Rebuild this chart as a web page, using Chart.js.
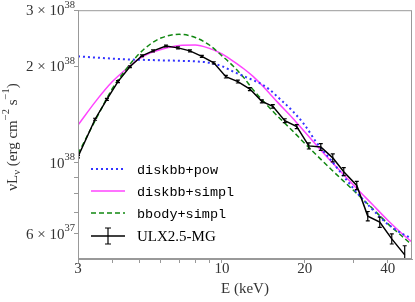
<!DOCTYPE html>
<html lang="en">
<head>
<meta charset="UTF-8">
<title>ULX2.5-MG spectrum</title>
<script src="https://cdn.jsdelivr.net/npm/chart.js"></script>
<style>
  html, body { margin: 0; padding: 0; background: #fff; }
  #wrap { width: 415px; height: 302px; }
</style>
</head>
<body>
<div id="wrap"><canvas id="specChart"></canvas></div>
<script>
// ULX2.5-MG data points: energy (keV), nuLnu (erg/s), 1-sigma error
const dataE = [3.00, 3.46, 3.82, 4.19, 4.63, 5.12, 5.62, 6.26, 6.92, 7.65, 8.45, 9.34, 10.33, 11.42,
               12.63, 13.96, 15.30, 16.91, 18.69, 20.67, 22.85, 25.26, 27.69, 30.87, 33.85, 37.42, 41.37, 46.1];
const dataL = [1.044e38, 1.368e38, 1.578e38, 1.794e38, 1.997e38, 2.160e38, 2.238e38, 2.319e38, 2.287e38,
               2.238e38, 2.152e38, 2.054e38, 1.859e38, 1.794e38, 1.700e38, 1.556e38, 1.501e38, 1.354e38,
               1.297e38, 1.129e38, 1.121e38, 1.036e38, 9.38e37, 8.49e37, 6.81e37, 6.52e37, 5.78e37, 5.15e37];
const dataErr = [0.8e36, 1.0e36, 1.1e36, 1.2e36, 1.3e36, 1.4e36, 1.5e36, 1.5e36, 1.5e36, 1.5e36, 1.5e36,
                 1.6e36, 1.8e36, 1.8e36, 1.8e36, 1.7e36, 1.8e36, 1.9e36, 1.9e36, 2.5e36, 2.7e36, 3.0e36,
                 2.7e36, 2.5e36, 2.3e36, 2.4e36, 2.1e36, 3.5e36];

// model curves, read at these energies (keV)
const modelE = [3, 3.5, 4, 4.5, 5, 5.5, 6, 7, 8, 9, 10, 11, 12, 13, 14, 15, 16, 18, 20, 22, 25, 28, 31, 35, 40, 45, 49];
const diskbbPow = [2.152e38, 2.132e38, 2.117e38, 2.106e38, 2.099e38, 2.096e38, 2.091e38, 2.084e38, 2.076e38,
                   2.054e38, 2.004e38, 1.927e38, 1.866e38, 1.811e38, 1.757e38, 1.683e38, 1.601e38, 1.455e38,
                   1.310e38, 1.160e38, 1.014e38, 8.95e37, 8.04e37, 7.18e37, 6.43e37, 6.01e37, 5.80e37];
const diskbbSimpl = [1.311e38, 1.567e38, 1.794e38, 1.968e38, 2.114e38, 2.207e38, 2.262e38, 2.327e38, 2.335e38,
                     2.279e38, 2.191e38, 2.076e38, 1.968e38, 1.859e38, 1.744e38, 1.636e38, 1.539e38, 1.383e38,
                     1.247e38, 1.137e38, 1.007e38, 9.08e37, 8.28e37, 7.44e37, 6.61e37, 6.01e37, 5.65e37];
const bbodySimpl = [1.066e38, 1.378e38, 1.707e38, 1.968e38, 2.191e38, 2.352e38, 2.455e38, 2.521e38, 2.464e38,
                    2.335e38, 2.160e38, 2.004e38, 1.846e38, 1.689e38, 1.572e38, 1.475e38, 1.393e38, 1.261e38,
                    1.149e38, 1.059e38, 9.51e37, 8.67e37, 7.99e37, 7.23e37, 6.45e37, 5.90e37, 5.53e37];

// axes
const xTicks = [3, 4, 5, 6, 7, 8, 9, 10, 20, 30, 40];
const xLabeled = [3, 10, 20, 40];
const yTicks = [6e37, 7e37, 8e37, 9e37, 1e38, 2e38, 3e38];
const yLabelVals = [6e37, 1e38, 2e38, 3e38];
const yLabelMant = ['6 × 10', '10', '2 × 10', '3 × 10'];
const yLabelExp = ['37', '38', '38', '38'];

const seriesNames = ['diskbb+pow', 'diskbb+simpl', 'bbody+simpl', 'ULX2.5-MG'];

const serif = "'Liberation Serif', 'Times New Roman', serif";
const mono = "'Liberation Mono', 'DejaVu Sans Mono', monospace";
const axisGray = '#999';
const textGray = '#333';

function pts(xs, ys) { return xs.map((x, i) => ({ x: x, y: ys[i] })); }

// draw text made of normal / superscript / subscript pieces
function richWidth(c, parts, size) {
  let w = 0;
  parts.forEach(p => {
    c.font = (p.sup || p.sub ? size * 0.7 : size) + 'px ' + serif;
    w += c.measureText(p.t).width;
  });
  return w;
}
function drawRich(c, parts, x, y, size, align) {
  const w = richWidth(c, parts, size);
  let cx = align === 'right' ? x - w : align === 'center' ? x - w / 2 : x;
  c.textAlign = 'left';
  c.textBaseline = 'middle';
  parts.forEach(p => {
    const s = p.sup || p.sub ? size * 0.7 : size;
    c.font = s + 'px ' + serif;
    const dy = p.sup ? -size * 0.42 : p.sub ? size * 0.25 : 0;
    c.fillText(p.t, cx, y + dy);
    cx += c.measureText(p.t).width;
  });
}

const errorBars = {
  id: 'errorBars',
  afterDatasetsDraw(chart) {
    const xs = chart.scales.x, ys = chart.scales.y, a = chart.chartArea, c = chart.ctx;
    c.save();
    c.beginPath();
    c.rect(a.left, a.top, a.right - a.left, a.bottom - a.top);
    c.clip();
    c.strokeStyle = '#000';
    c.lineWidth = 1.2;
    dataE.forEach((e, i) => {
      const px = xs.getPixelForValue(e);
      const y1 = ys.getPixelForValue(dataL[i] - dataErr[i]);
      const y2 = ys.getPixelForValue(dataL[i] + dataErr[i]);
      c.beginPath();
      c.moveTo(px, y1); c.lineTo(px, y2);
      c.moveTo(px - 2, y1); c.lineTo(px + 2, y1);
      c.moveTo(px - 2, y2); c.lineTo(px + 2, y2);
      c.stroke();
    });
    c.restore();
  }
};

const decorations = {
  id: 'decorations',
  afterDraw(chart) {
    const a = chart.chartArea, c = chart.ctx, xs = chart.scales.x, ys = chart.scales.y;
    c.save();
    // frame
    c.strokeStyle = axisGray;
    c.lineWidth = 1;
    c.strokeRect(a.left + 0.5, a.top + 0.5, a.right - a.left - 1, a.bottom - a.top - 1);

    // tick labels
    c.fillStyle = textGray;
    xLabeled.forEach(v => {
      drawRich(c, [{ t: String(v) }], xs.getPixelForValue(v), a.bottom + 10, 15, 'center');
    });
    yLabelVals.forEach((v, i) => {
      drawRich(c, [{ t: yLabelMant[i] }, { t: yLabelExp[i], sup: true }], a.left - 3, ys.getPixelForValue(v) + 1, 15, 'right');
    });

    // axis titles
    drawRich(c, [{ t: 'E (keV)' }], (a.left + a.right) / 2, 289, 15, 'center');
    c.save();
    c.translate(13, 137);
    c.rotate(-Math.PI / 2);
    drawRich(c, [{ t: 'νL' }, { t: 'ν', sub: true }, { t: ' (erg cm' }, { t: '−2', sup: true },
                 { t: ' s' }, { t: '−1', sup: true }, { t: ')' }], 0, 0, 15, 'center');
    c.restore();

    // legend
    const lx0 = 91, lx1 = 125, tx = 137;
    const rows = [169, 191, 213, 236];
    const styles = [
      { color: '#3333ff', width: 2, dash: [2, 3] },
      { color: '#ff44ff', width: 1.5, dash: [] },
      { color: '#118811', width: 1.5, dash: [5, 3] },
      { color: '#000', width: 1.5, dash: [] }
    ];
    rows.forEach((y, i) => {
      const s = styles[i];
      c.strokeStyle = s.color;
      c.lineWidth = s.width;
      c.setLineDash(s.dash);
      c.beginPath();
      c.moveTo(lx0, y);
      c.lineTo(lx1, y);
      c.stroke();
      c.setLineDash([]);
      c.fillStyle = '#000';
      c.textAlign = 'left';
      c.textBaseline = 'middle';
      if (i < 3) {
        c.font = '13.5px ' + mono;
        c.fillText(seriesNames[i], tx, y + 1);
      } else {
        const mx = (lx0 + lx1) / 2;
        c.lineWidth = 1.2;
        c.beginPath();
        c.moveTo(mx, y - 8); c.lineTo(mx, y + 8);
        c.moveTo(mx - 3, y - 8); c.lineTo(mx + 3, y - 8);
        c.moveTo(mx - 3, y + 8); c.lineTo(mx + 3, y + 8);
        c.stroke();
        c.font = '15px ' + serif;
        c.fillText(seriesNames[i], tx, y + 1);
      }
    });
    c.restore();
  }
};

const chart = new Chart(document.getElementById('specChart').getContext('2d'), {
  type: 'line',
  data: {
    datasets: [
      {
        label: seriesNames[3],
        data: pts(dataE, dataL),
        borderColor: '#000',
        borderWidth: 1.5,
        pointRadius: 0,
        tension: 0
      },
      {
        label: seriesNames[0],
        data: pts(modelE, diskbbPow),
        borderColor: '#3333ff',
        borderWidth: 2,
        borderDash: [2, 3],
        pointRadius: 0,
        cubicInterpolationMode: 'monotone'
      },
      {
        label: seriesNames[2],
        data: pts(modelE, bbodySimpl),
        borderColor: '#118811',
        borderWidth: 1.5,
        borderDash: [5, 3],
        pointRadius: 0,
        cubicInterpolationMode: 'monotone'
      },
      {
        label: seriesNames[1],
        data: pts(modelE, diskbbSimpl),
        borderColor: '#ff44ff',
        borderWidth: 1.5,
        pointRadius: 0,
        cubicInterpolationMode: 'monotone'
      }
    ]
  },
  options: {
    responsive: true,
    maintainAspectRatio: false,
    animation: false,
    devicePixelRatio: 1,
    layout: { padding: { top: 9, right: 3, left: 0, bottom: 0 } },
    plugins: { legend: { display: false }, tooltip: { enabled: false } },
    scales: {
      x: {
        type: 'logarithmic',
        min: 3,
        max: 49,
        afterBuildTicks: s => { s.ticks = xTicks.map(v => ({ value: v })); },
        afterFit: s => { s.height = 43; },
        ticks: { autoSkip: false, maxRotation: 0, callback: () => '' },
        grid: { drawOnChartArea: false, tickLength: 4, color: axisGray },
        border: { color: axisGray }
      },
      y: {
        type: 'logarithmic',
        min: 5e37,
        max: 3e38,
        afterBuildTicks: s => { s.ticks = yTicks.map(v => ({ value: v })); },
        afterFit: s => { s.width = 78; },
        ticks: { autoSkip: false, callback: () => '' },
        grid: { drawOnChartArea: false, tickLength: 4, color: axisGray },
        border: { color: axisGray }
      }
    }
  },
  plugins: [errorBars, decorations]
});
</script>
</body>
</html>
